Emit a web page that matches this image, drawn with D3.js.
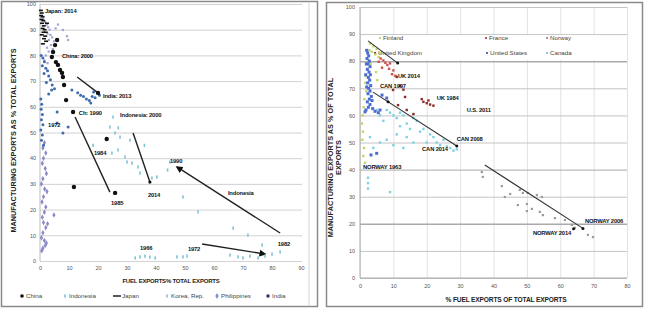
<!DOCTYPE html>
<html>
<head>
<meta charset="utf-8">
<script src="https://cdn.jsdelivr.net/npm/d3@7"></script>
<style>
  body { margin: 0; background: #fff; }
  svg { display: block; font-family: "Liberation Sans Narrow", "Arial Narrow", "Liberation Sans", sans-serif; }
  .tick text { fill: #555; font-size: 5.5px; }
  .lbl { font-weight: bold; font-size: 5.8px; fill: #111; letter-spacing: -0.15px; }
  .axis-title { font-weight: bold; fill: #222; }
  .legend text { fill: #444; font-size: 6.2px; }
</style>
</head>
<body>
<svg width="650" height="315"></svg>
<script>
// ---------- left chart data (fuel exports %, manufacturing exports %) ----------
const leftXTicks = [0, 10, 20, 30, 40, 50, 60, 70, 80, 90];
const leftYTicks = [0, 10, 20, 30, 40, 50, 60, 70, 80, 90, 100];

const chinaPts = [[5.9,86],[5.2,84],[4.5,81.3],[4.1,79.4],[5.5,77.4],[6.2,76.3],[6.9,74.3],[7.6,73.2],[7.9,71.6],
  [8.3,68.5],[9,62.6],[11.4,58],[23,47.5],[11.7,28.8],[25.9,26.5],[20,65.4]];
const indonesiaPts = [[25.2,56],[24.1,52.1],[27,51.8],[25.9,49.8],[27.6,48.2],[29.3,40.5],[30,38.5],[31.7,38.1],
  [33.8,36.6],[34.5,34.2],[18.3,45],[24.8,42],[26.9,43.2],[38.6,32.3],[40.3,32.7],[44,35.4],[44.8,38.5],[49.3,24.9],
  [54.5,19.1],[66.6,12.8],[71.7,10.1],[76.6,6.2],[82.8,3.5],[32.8,1.2],[34.5,1.6],[36.2,1.9],[37.9,1.5],[39.7,1.2],
  [47.2,1.6],[49.3,1.6],[50.7,1.9],[65.5,2.3],[68.3,1.6],[70,1.2],[72.4,1.9],[75.2,1.2],[77.6,1.9],[80,2.7],[36,45],[31,47]];
const japanPts = [[0.3,97.5],[0.6,96.5],[0.4,95.5],[0.9,95],[0.5,94],[1.1,93.5],[0.7,92.5],[1.3,91.5],[0.9,90.5],
  [1.6,90],[1.2,89],[0.6,88],[1.8,87.5],[1.4,86.5],[2.1,85.5],[1,84.5],[2.4,92.5],[2,89]];
const koreaPts = [[1.2,94],[1.8,93],[2.3,92],[2.8,91],[3.3,90],[2.6,88.5],[3.6,88],[4.2,87],[3.1,86],[4.8,85.5],
  [3.8,84],[2.4,83],[3,81.5],[4.4,82.5],[2,80],[6.2,92],[7.9,89.9],[9.3,87.5],[9.7,86],[5.4,90.5],[1.5,78],[2.6,77]];
const philippinesPts = [[1.5,46],[1,44],[2,42],[1.2,40],[0.8,38],[1.8,36],[2.2,34],[1,32],[0.5,30],[1.6,28],[2.4,27],
  [1.2,25],[0.7,23],[2,21],[1.5,19],[0.8,17],[1.2,15],[2,13],[1,11],[0.5,9],[1.5,8],[2.2,7],[1.8,6],[1,5],[0.6,4],
  [4.8,17.9],[2.6,14.5]];
const indiaPts = [[0.4,80],[1,79],[1.5,77.5],[0.8,76],[2,75],[2.6,74],[1.4,73],[3,72],[3.6,70.5],[2.2,69.5],[4.2,68.5],
  [5,67],[0.3,63],[0.6,61],[0.4,59],[0.8,57],[0.5,55],[1,53],[0.3,51],[0.8,49],[0.5,47],[1.2,45],[5.9,58],[5.9,53.7],
  [9.7,52.1],[7.9,49.8],[11,66.5],[13,65.5],[14,64.5],[15,64],[16,63],[17,62.5],[18,64],[19,63.5],[18.5,65.8],
  [20.5,64.5],[17.5,61.5],[4,66.5],[3,65]];

const leftLines = [
  { from: [12.8, 71.6], to: [20, 65.4], arrow: false },
  { from: [12.1, 56], to: [24.1, 26.8], arrow: false },
  { from: [32.1, 49.8], to: [37.9, 30.7], arrow: false },
  { from: [82.8, 10.9], to: [47.2, 36.6], arrow: true },
  { from: [55.9, 6.6], to: [77.6, 2.7], arrow: true }
];
const leftDots = [[37.9, 30.7]];

const leftLabels = [
  { text: "Japan: 2014", x: 1.7, y: 97.3, bold: true },
  { text: "China: 2000", x: 7.6, y: 79.8, bold: true },
  { text: "India: 2013", x: 21.7, y: 64.2, bold: true },
  { text: "Ch: 1990", x: 13.4, y: 57.6, bold: true },
  { text: "Indonesia: 2000", x: 27.6, y: 56.8, bold: true },
  { text: "1972", x: 2.8, y: 52.9, bold: true },
  { text: "1984", x: 18.6, y: 42, bold: true },
  { text: "1985", x: 24.5, y: 22.6, bold: true },
  { text: "2014", x: 37.2, y: 25.7, bold: true },
  { text: "1990", x: 44.8, y: 38.9, bold: true },
  { text: "Indonesia", x: 64.8, y: 26.5, bold: false },
  { text: "1982", x: 82, y: 6.6, bold: true },
  { text: "1966", x: 34.5, y: 5, bold: true },
  { text: "1972", x: 51, y: 4.7, bold: true }
];

// ---------- right chart data ----------
const rightXTicks = [0, 10, 20, 30, 40, 50, 60, 70, 80];
const rightYTicks = [0, 10, 20, 30, 40, 50, 60, 70, 80, 90, 100];

const finlandPts = [[3,86.5],[4,85.5],[5,84.5],[3.5,83.5],[4.6,82.5],[5.6,81.5],[2.6,80.5],[3.2,79],[2.2,77],[4.8,76],
  [1.8,74.5],[5.2,73],[1.6,72],[1.9,69],[1.3,66],[1.1,63],[0.8,60],[0.6,57],[0.9,54],[0.7,51],[1.2,48],[1,45],[1.5,42.5],
  [2.8,84],[6,83]];
const francePts = [[6.2,81],[7,80.3],[7.6,79.4],[8.2,78.6],[6.6,77.6],[9,79.2],[5.6,79.8],[8.7,77.2],[10,76.6],[9.6,75.2],[10.6,74.6]];
const norwayPts = [[36.5,39.1],[36.8,37.3],[42.5,33.9],[43.4,29.9],[47.9,32.5],[48.8,31.4],[50.3,31.4],[53,30.6],
  [54.5,29.9],[47.3,26.9],[50,27.3],[50,24.7],[51.5,25.5],[53.9,24.4],[54.8,23.2],[58.4,22.1],[61.4,21.4],[63.5,19.6],
  [64.4,18.5],[68.3,15.9],[69.8,15.1],[45,31]];
const ukPts = [[19,65],[20,64.5],[21,64],[18.5,66],[22,63.6],[20.5,65.5],[9.9,69.4],[13.5,66.8],[11.4,63.8],[14,62],
  [12,71],[13,69.5],[11,74.2],[16,60.5]];
const usPts = [[2,84],[2.3,83],[2.6,82],[2.1,81],[2.8,80],[2.4,79],[3,78],[2.2,77],[2.7,76],[3.1,75],[2.5,74],[2.9,73],
  [2.3,72],[3.2,71],[2.6,70],[3,69],[2.4,68],[3.4,67],[2.8,66],[3.6,65.5],[2.2,65],[3,64],[2.5,63],[3.8,62.5],[1.8,62],
  [4.5,61.5],[5.5,61],[1.5,61.3],[6,62],[2,70.5],[1.7,75],[1.9,79],[6.6,67.5],[8,66.4],[3.3,45.4],[5,46]];
const canadaPts = [[5,62],[6,60],[7,58],[8,62],[9,61],[10,60],[11,59],[12,61],[13,60],[14,57],[15,55],[16,59],[17,58],
  [18,54],[19,55],[20,50],[21,53],[22,52],[23,50],[24,49],[25,51],[26,48.5],[27,48],[28,47],[29,47.5],[12,56],[11,53],
  [14,52],[16,50],[3,52],[4,48],[6,50],[8,51],[10,49],[13,48],[2.4,37],[2.4,35],[2.4,33],[9,31.7]];

const rightLines = [
  { from: [2.4, 87.5], to: [11.3, 79.3] },
  { from: [3.9, 68.6], to: [29, 48.7] },
  { from: [37.4, 41.7], to: [66.8, 18.3] }
];
const rightDots = [[11.3, 79.3], [8.4, 65], [29, 48.7], [66.8, 18.3], [64, 18.2]];

const rightLabels = [
  { text: "UK 2014", x: 11.4, y: 74.5 },
  { text: "CAN 1997", x: 6, y: 70.8 },
  { text: "UK 1984", x: 23, y: 66.4 },
  { text: "U.S. 2011", x: 32, y: 62 },
  { text: "CAN 2008", x: 29, y: 51.3 },
  { text: "CAN 2014", x: 18.6, y: 47.6 },
  { text: "NORWAY 1963", x: 0.9, y: 41 },
  { text: "NORWAY 2006", x: 67.4, y: 21 },
  { text: "NORWAY 2014", x: 51.8, y: 16.6 }
];

const svg = d3.select("svg");

// arrow head for the left chart
svg.append("defs").append("marker")
  .attr("id", "arrow")
  .attr("viewBox", "0 0 10 10")
  .attr("refX", 8).attr("refY", 5)
  .attr("markerWidth", 5).attr("markerHeight", 5)
  .attr("orient", "auto")
  .append("path").attr("d", "M0,0L10,5L0,10Z").attr("fill", "#111");

// frames
svg.append("rect").attr("x", 1.5).attr("y", 1.5).attr("width", 316).attr("height", 305)
  .attr("fill", "#fff").attr("stroke", "#8a8a8a").attr("stroke-width", 1.5);
svg.append("line").attr("x1", 309).attr("x2", 309).attr("y1", 3).attr("y2", 305).attr("stroke", "#d6d6d6");
svg.append("rect").attr("x", 326.5).attr("y", 2.5).attr("width", 316).attr("height", 304)
  .attr("fill", "#fff").attr("stroke", "#8a8a8a").attr("stroke-width", 1.5);

// ================= LEFT CHART =================
const xL = d3.scaleLinear().domain([0, 90]).range([40, 301]);
const yL = d3.scaleLinear().domain([0, 100]).range([261, 4]);

const gL = svg.append("g");

const yAxisL = gL.append("g").attr("transform", `translate(40,0)`)
  .call(d3.axisLeft(yL).tickValues(leftYTicks).tickSize(-262).tickPadding(4));
yAxisL.select(".domain").remove();
yAxisL.selectAll(".tick line").attr("stroke", "#d2d2d2");

const xAxisL = gL.append("g").attr("transform", `translate(0,261)`)
  .call(d3.axisBottom(xL).tickValues(leftXTicks).tickSize(0).tickPadding(5));
xAxisL.select(".domain").remove();

gL.append("line").attr("x1", 40).attr("x2", 40).attr("y1", yL(100)).attr("y2", yL(0)).attr("stroke", "#bbb");

gL.append("text").attr("class", "axis-title")
  .attr("transform", `translate(16,${(yL(0) + yL(100)) / 2 + 8}) rotate(-90)`)
  .attr("text-anchor", "middle").attr("font-size", 7.3)
  .text("MANUFACTURING EXPORTS AS % TOTAL EXPORTS");
gL.append("text").attr("class", "axis-title")
  .attr("x", 171).attr("y", 283).attr("text-anchor", "middle").attr("font-size", 6)
  .attr("letter-spacing", -0.2)
  .text("FUEL EXPORTS% TOTAL EXPORTS");

// trend lines
gL.selectAll(".trend").data(leftLines).enter().append("line")
  .attr("x1", d => xL(d.from[0])).attr("y1", d => yL(d.from[1]))
  .attr("x2", d => xL(d.to[0])).attr("y2", d => yL(d.to[1]))
  .attr("stroke", "#222").attr("stroke-width", 1.4)
  .attr("marker-end", d => d.arrow ? "url(#arrow)" : null);

// series
gL.selectAll(".ph").data(philippinesPts).enter().append("path")
  .attr("d", d3.symbol(d3.symbolDiamond, 9)())
  .attr("transform", d => `translate(${xL(d[0])},${yL(d[1])})`)
  .attr("fill", "#8b89c9");
gL.selectAll(".ko").data(koreaPts).enter().append("rect")
  .attr("x", d => xL(d[0]) - 1.1).attr("y", d => yL(d[1]) - 1.1)
  .attr("width", 2.2).attr("height", 2.2).attr("fill", "#a3a6d6");
gL.selectAll(".in").data(indonesiaPts).enter().append("rect")
  .attr("x", d => xL(d[0]) - 0.8).attr("y", d => yL(d[1]) - 1.6)
  .attr("width", 1.6).attr("height", 3.2).attr("fill", "#7cc4d4");
gL.selectAll(".ind").data(indiaPts).enter().append("circle")
  .attr("cx", d => xL(d[0])).attr("cy", d => yL(d[1])).attr("r", 1.5).attr("fill", "#3e6bb0");
gL.selectAll(".jp").data(japanPts).enter().append("line")
  .attr("x1", d => xL(d[0]) - 2).attr("x2", d => xL(d[0]) + 2)
  .attr("y1", d => yL(d[1])).attr("y2", d => yL(d[1]))
  .attr("stroke", "#111").attr("stroke-width", 1.6);
gL.selectAll(".cn").data(chinaPts).enter().append("circle")
  .attr("cx", d => xL(d[0])).attr("cy", d => yL(d[1])).attr("r", 2.2).attr("fill", "#111");
gL.selectAll(".dot").data(leftDots).enter().append("circle")
  .attr("cx", d => xL(d[0])).attr("cy", d => yL(d[1])).attr("r", 1.6).attr("fill", "#111");

gL.selectAll(".lbl").data(leftLabels).enter().append("text")
  .attr("class", "lbl")
  .attr("x", d => xL(d.x)).attr("y", d => yL(d.y))
  .attr("dy", "0.35em")
  .attr("font-weight", d => d.bold ? "bold" : "normal")
  .text(d => d.text);

// left legend
const leftLegend = [
  { name: "China", x: 22, kind: "circle", color: "#111" },
  { name: "Indonesia", x: 65, kind: "bar", color: "#7cc4d4" },
  { name: "Japan", x: 117, kind: "dash", color: "#111" },
  { name: "Korea, Rep.", x: 167, kind: "bar", color: "#a8b4cc" },
  { name: "Philippines", x: 217, kind: "diamond", color: "#8b89c9" },
  { name: "India", x: 268, kind: "circle", color: "#2c3e66" }
];
const lgL = gL.selectAll(".legend").data(leftLegend).enter().append("g")
  .attr("class", "legend").attr("transform", d => `translate(${d.x},296)`);
lgL.each(function (d) {
  const g = d3.select(this);
  if (d.kind === "circle") g.append("circle").attr("r", 1.8).attr("fill", d.color);
  if (d.kind === "bar") g.append("rect").attr("x", -0.8).attr("y", -1.6).attr("width", 1.6).attr("height", 3.2).attr("fill", d.color);
  if (d.kind === "dash") g.append("line").attr("x1", -4).attr("x2", 4).attr("stroke", d.color).attr("stroke-width", 1.4);
  if (d.kind === "diamond") g.append("path").attr("d", d3.symbol(d3.symbolDiamond, 10)()).attr("fill", d.color);
});
lgL.append("text").attr("x", d => d.kind === "dash" ? 5 : 4).attr("dy", "0.35em").text(d => d.name);

// ================= RIGHT CHART =================
const xR = d3.scaleLinear().domain([0, 80]).range([360, 627]);
const yR = d3.scaleLinear().domain([0, 100]).range([278, 7]);

const gR = svg.append("g");

const xAxisR = gR.append("g").attr("transform", `translate(0,278)`)
  .call(d3.axisBottom(xR).tickValues(rightXTicks).tickSize(-271).tickPadding(6));
xAxisR.select(".domain").remove();
xAxisR.selectAll(".tick line").attr("stroke", "#e2e2e2");
xAxisR.selectAll(".tick text").attr("font-size", 6);

const yAxisR = gR.append("g").attr("transform", `translate(360,0)`)
  .call(d3.axisLeft(yR).tickValues(rightYTicks).tickSize(-267).tickPadding(5));
yAxisR.select(".domain").remove();
yAxisR.selectAll(".tick line").attr("stroke", d => (d === 80 || d === 20 || d === 40) ? "#aaa" : "#c4c4c4")
  .attr("stroke-width", d => (d === 80 || d === 20) ? 1.6 : 1);
yAxisR.selectAll(".tick text").attr("font-size", 6);

gR.append("line").attr("x1", 360).attr("x2", 360).attr("y1", yR(100)).attr("y2", yR(0)).attr("stroke", "#aaa");
gR.append("line").attr("x1", 360).attr("x2", 627).attr("y1", yR(0)).attr("y2", yR(0)).attr("stroke", "#aaa");

const titleR = gR.append("text").attr("class", "axis-title")
  .attr("transform", `translate(333,${(yR(0) + yR(100)) / 2 + 15}) rotate(-90)`)
  .attr("text-anchor", "middle").attr("font-size", 7.3);
titleR.append("tspan").attr("x", 0).attr("dy", 0).text("MANUFACTURING EXPORTS AS % OF TOTAL");
titleR.append("tspan").attr("x", 0).attr("dy", "1.05em").text("EXPORTS");

gR.append("text").attr("class", "axis-title")
  .attr("x", 506).attr("y", 302).attr("text-anchor", "middle").attr("font-size", 6.6)
  .attr("letter-spacing", -0.15)
  .text("% FUEL EXPORTS OF TOTAL EXPORTS");

// legend box inside the plot
gR.append("rect").attr("x", 366).attr("y", yR(90) + 1).attr("width", 230).attr("height", yR(80) - yR(90) - 2)
  .attr("fill", "#fff");
const rightLegend = [
  { name: "Finland", x: 380, y: 38, color: "#c2d66a" },
  { name: "France", x: 486, y: 38, color: "#d0504a" },
  { name: "Norway", x: 547, y: 38, color: "#9a9a9a" },
  { name: "United Kingdom", x: 375, y: 53, color: "#8c2b2b" },
  { name: "United States", x: 487, y: 53, color: "#4b6ed3" },
  { name: "Canada", x: 547, y: 53, color: "#7fd2e2" }
];
const lgR = gR.selectAll(".legend").data(rightLegend).enter().append("g")
  .attr("class", "legend").attr("transform", d => `translate(${d.x},${d.y})`);
lgR.append("rect").attr("x", -1).attr("y", -1).attr("width", 2).attr("height", 2).attr("fill", d => d.color);
lgR.append("text").attr("x", 3).attr("dy", "0.35em").attr("font-size", 6).attr("fill", "#666").text(d => d.name);

// series
const dotSeries = [
  { pts: canadaPts, color: "#7fd2e2", r: 1.2 },
  { pts: finlandPts, color: "#c2d66a", r: 1.2 },
  { pts: norwayPts, color: "#9a9a9a", r: 1.1 },
  { pts: francePts, color: "#d0504a", r: 1.2 },
  { pts: ukPts, color: "#8c2b2b", r: 1.2 },
  { pts: usPts, color: "#4b6ed3", r: 1.5 }
];
dotSeries.forEach(s => {
  gR.append("g").selectAll("rect").data(s.pts).enter().append("rect")
    .attr("x", d => xR(d[0]) - s.r).attr("y", d => yR(d[1]) - s.r)
    .attr("width", s.r * 2).attr("height", s.r * 2).attr("fill", s.color);
});

gR.selectAll(".trend").data(rightLines).enter().append("line")
  .attr("x1", d => xR(d.from[0])).attr("y1", d => yR(d.from[1]))
  .attr("x2", d => xR(d.to[0])).attr("y2", d => yR(d.to[1]))
  .attr("stroke", "#333").attr("stroke-width", 1.1);
gR.selectAll(".dot").data(rightDots).enter().append("circle")
  .attr("cx", d => xR(d[0])).attr("cy", d => yR(d[1])).attr("r", 1.5).attr("fill", "#111");

gR.selectAll(".lbl").data(rightLabels).enter().append("text")
  .attr("class", "lbl")
  .attr("x", d => xR(d.x)).attr("y", d => yR(d.y))
  .attr("dy", "0.35em").attr("font-size", 5.6)
  .text(d => d.text);
</script>
</body>
</html>
